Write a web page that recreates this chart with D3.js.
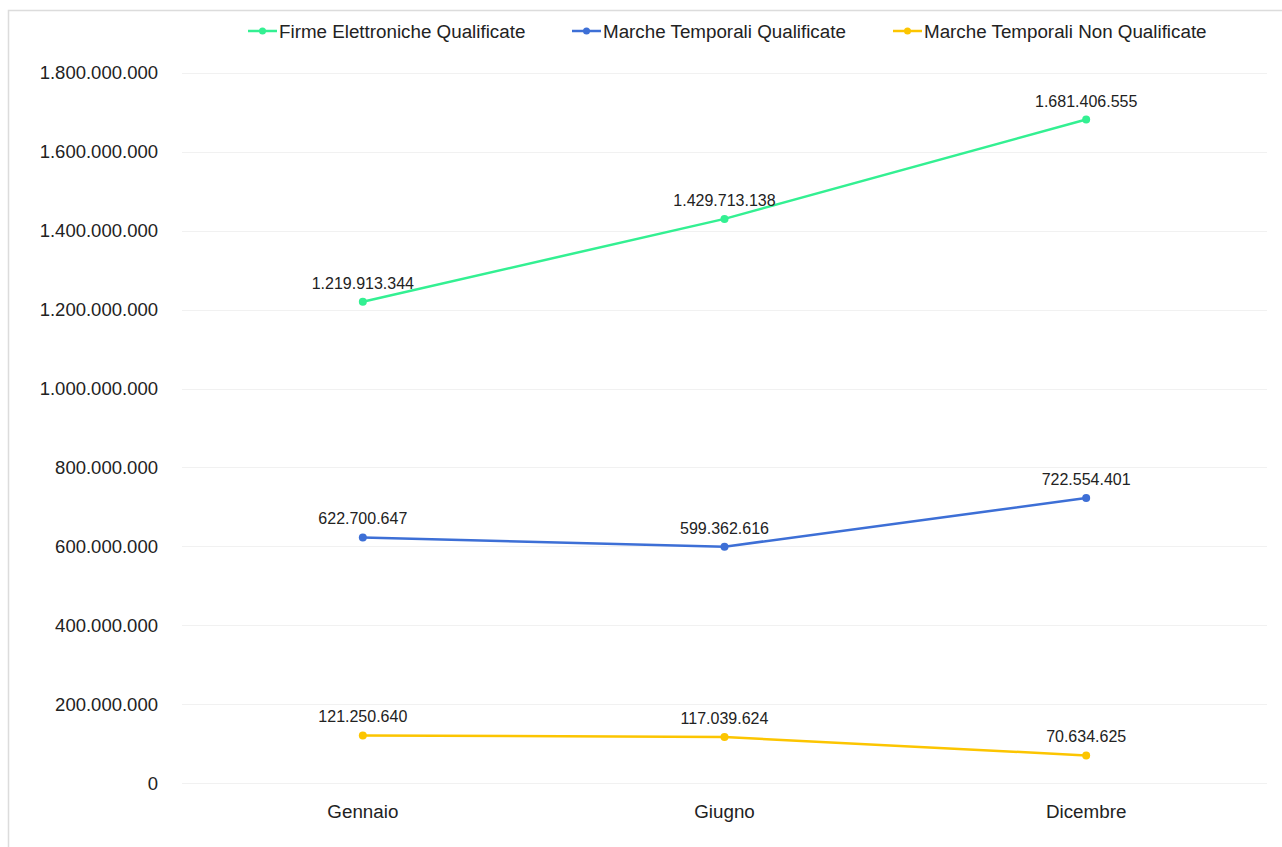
<!DOCTYPE html>
<html>
<head>
<meta charset="utf-8">
<script src="https://cdn.jsdelivr.net/npm/d3@7"></script>
<style>
  body { margin: 0; background: #fff; }
  svg { display: block; font-family: "Liberation Sans", Arial, sans-serif; }
</style>
</head>
<body>
<div></div>
<script>
// chart values
var months = ["Gennaio", "Giugno", "Dicembre"]
var seriesNames = ["Firme Elettroniche Qualificate", "Marche Temporali Qualificate", "Marche Temporali Non Qualificate"]
var firme = [1219913344, 1429713138, 1681406555]
var marcheQ = [622700647, 599362616, 722554401]
var marcheNQ = [121250640, 117039624, 70634625]
var yTicks = [0, 200000000, 400000000, 600000000, 800000000, 1000000000, 1200000000, 1400000000, 1600000000, 1800000000]
var colors = ["#33f092", "#3d6fd6", "#fcc500"]

var W = 1282, H = 847
var plotLeft = 182, plotRight = 1267, plotTop = 72.7, plotBottom = 783.3

var svg = d3.select("div")
  .append("svg")
  .attr("width", W)
  .attr("height", H)

// outer frame
svg.append("rect")
  .attr("x", 8.5).attr("y", 10.5)
  .attr("width", W).attr("height", H)
  .attr("fill", "#fff")
  .attr("stroke", "#dcdcdc")
  .attr("stroke-width", 1.5)

var x = d3.scaleBand().domain(months).range([plotLeft, plotRight])
var y = d3.scaleLinear().domain([0, 1800000000]).range([plotBottom, plotTop])

var fmt = d3.formatLocale({decimal: ",", thousands: ".", grouping: [3], currency: ["", "€"]}).format(",d")

// grid
svg.append("g")
  .selectAll("line")
  .data(yTicks)
  .enter()
  .append("line")
  .attr("x1", plotLeft).attr("x2", plotRight)
  .attr("y1", d => Math.round(y(d)) + 0.5)
  .attr("y2", d => Math.round(y(d)) + 0.5)
  .attr("stroke", "#f1f1f1")
  .attr("stroke-width", 1)

// y axis labels
var yAxis = svg.append("g")
  .attr("transform", "translate(" + (plotLeft - 24) + ",0)")
  .call(d3.axisLeft(y).tickValues(yTicks).tickFormat(fmt).tickSize(0).tickPadding(0))
yAxis.select(".domain").remove()
yAxis.selectAll("text")
  .attr("font-size", 18.5)
  .attr("font-family", "Liberation Sans, Arial, sans-serif")
  .attr("fill", "#222")

// x axis labels
var xAxis = svg.append("g")
  .attr("transform", "translate(0," + plotBottom + ")")
  .call(d3.axisBottom(x).tickSize(0).tickPadding(21))
xAxis.select(".domain").remove()
xAxis.selectAll("text")
  .attr("font-size", 18.8)
  .attr("font-family", "Liberation Sans, Arial, sans-serif")
  .attr("fill", "#222")

var allSeries = [firme, marcheQ, marcheNQ]
var cx = d => x(d) + x.bandwidth() / 2

var line = d3.line()
  .x((v, i) => cx(months[i]))
  .y(v => y(v))

allSeries.forEach(function (vals, s) {
  var g = svg.append("g")
  g.append("path")
    .attr("d", line(vals))
    .attr("fill", "none")
    .attr("stroke", colors[s])
    .attr("stroke-width", 2.5)
  g.selectAll("circle")
    .data(vals)
    .enter()
    .append("circle")
    .attr("cx", (v, i) => cx(months[i]))
    .attr("cy", v => y(v))
    .attr("r", 4)
    .attr("fill", colors[s])
  g.selectAll("text")
    .data(vals)
    .enter()
    .append("text")
    .attr("x", (v, i) => cx(months[i]))
    .attr("y", v => y(v) - 13)
    .attr("text-anchor", "middle")
    .attr("font-size", 16)
    .attr("fill", "#222")
    .text(v => fmt(v))
})

// legend
var legendX = [248, 572, 893]
var legend = svg.append("g")
  .selectAll("g")
  .data(seriesNames)
  .enter()
  .append("g")
  .attr("transform", (d, i) => "translate(" + legendX[i] + ",31)")
legend.append("line")
  .attr("x1", 0).attr("x2", 29)
  .attr("stroke", (d, i) => colors[i])
  .attr("stroke-width", 2.5)
legend.append("circle")
  .attr("cx", 14.5).attr("r", 3.5)
  .attr("fill", (d, i) => colors[i])
legend.append("text")
  .attr("x", 31)
  .attr("dy", "0.35em")
  .attr("font-size", 18.8)
  .attr("fill", "#222")
  .text(d => d)
</script>
</body>
</html>
